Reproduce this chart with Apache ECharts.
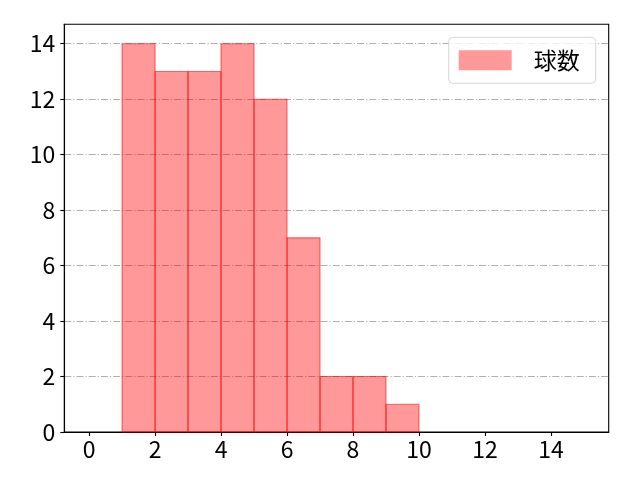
<!DOCTYPE html>
<html><head><meta charset="utf-8">
<script src="https://cdn.jsdelivr.net/npm/echarts@6/dist/echarts.min.js"></script>
<style>html,body{margin:0;padding:0;background:#fff}#c{width:640px;height:480px}</style>
</head><body><div id="c"></div>
<script>
const binStarts = [1,2,3,4,5,6,7,8,9];
const binEnds = [2,3,4,5,6,7,8,9,10];
const counts = [14,13,13,14,12,7,2,2,1];
const xTicks = [0,2,4,6,8,10,12,14];
const yTicks = [0,2,4,6,8,10,12,14];
const seriesName = '球数';

const data = binStarts.map((s,i)=>[s, binEnds[i], counts[i]]);
const font = '"Noto Sans CJK JP", "DejaVu Sans", sans-serif';
const chart = echarts.init(document.getElementById('c'), null, {renderer:'canvas'});
chart.setOption({
  animation:false,
  grid:{left:64.3,top:24.3,right:31.3,bottom:48,show:true,borderColor:'#000',borderWidth:1.1,containLabel:false},
  legend:{show:true,data:[{name:seriesName,icon:'rect'}],right:44.3,top:37.3,itemWidth:53,itemHeight:20,itemGap:10,
    padding:[11.5,16,11.5,10],borderColor:'#d6d6d6',borderWidth:1,borderRadius:4,backgroundColor:'rgba(255,255,255,0.8)',
    textStyle:{fontSize:23,lineHeight:23,fontFamily:font,color:'#000',padding:[0,0,0,17]}},
  xAxis:{type:'value',min:-0.75,max:15.75,
    axisLine:{show:true,onZero:false,lineStyle:{color:'#000',width:1.1}},
    axisTick:{show:true,length:4,lineStyle:{color:'#000',width:1.1},customValues:xTicks},
    axisLabel:{customValues:xTicks,fontSize:23,fontFamily:font,color:'#000',margin:6},
    splitLine:{show:false}},
  yAxis:{type:'value',min:0,max:14.7,
    axisLine:{show:true,onZero:false,lineStyle:{color:'#000',width:1.1}},
    axisTick:{show:true,length:4,lineStyle:{color:'#000',width:1.1},customValues:yTicks},
    axisLabel:{customValues:yTicks,fontSize:23,fontFamily:font,color:'#000',margin:9},
    splitLine:{show:true,lineStyle:{color:'#b0b0b0',width:1.1,type:[7,2,1.2,2]}}},
  series:[{name:seriesName,type:'custom',
    itemStyle:{color:'rgba(255,0,0,0.4)'},
    encode:{x:[0,1],y:2},
    renderItem:function(params,api){
      const p0 = api.coord([api.value(0), api.value(2)]);
      const p1 = api.coord([api.value(1), 0]);
      return {type:'rect',shape:{x:p0[0],y:p0[1],width:p1[0]-p0[0],height:p1[1]-p0[1]},
        style:{fill:'rgba(255,0,0,0.4)',stroke:'rgba(255,0,0,0.55)',lineWidth:1.1}};
    },
    data:data}]
});
</script></body></html>
